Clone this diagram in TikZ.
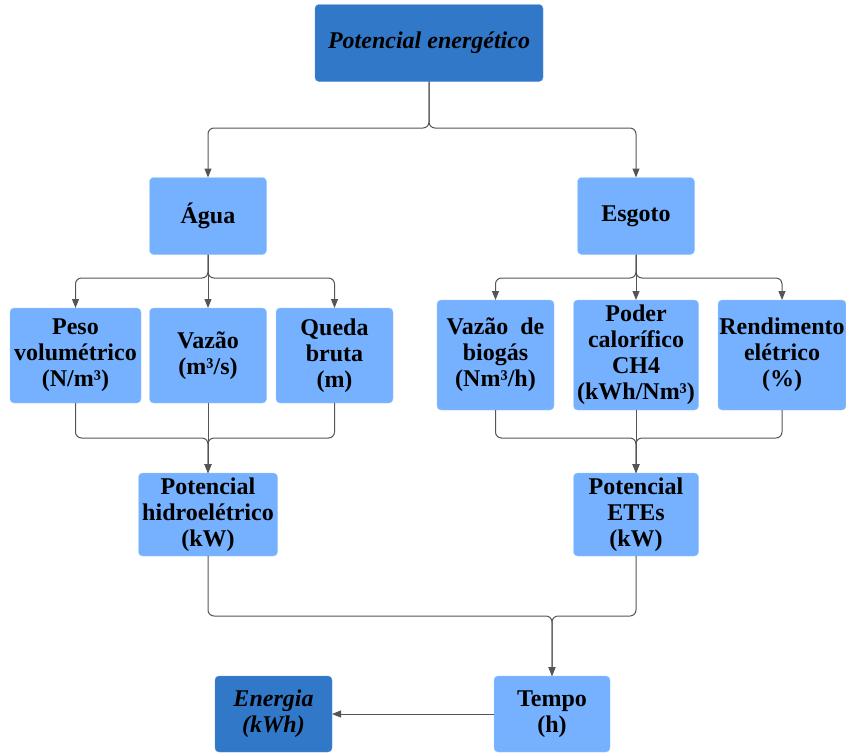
\documentclass[tikz,border=0pt]{standalone}
\usepackage{fontspec}
\setmainfont{Liberation Serif}
\usetikzlibrary{arrows.meta, calc, positioning}
\definecolor{lightbox}{RGB}{117,177,254}
\definecolor{darkbox}{RGB}{50,120,200}
\definecolor{linegray}{RGB}{85,85,85}

\begin{document}
\begin{tikzpicture}[x=1pt, y=-1pt,% pixel like coordinates
         > = {Triangle[length=9pt, width=7pt]},
   box/.style = {draw=lightbox!70!white, fill=lightbox, rounded corners=4pt,
                 inner sep=0pt, outer sep=0pt, align=center,
                 font=\fontsize{24}{26}\selectfont\bfseries},
topbox/.style = {box, draw=darkbox!80!white, fill=darkbox,
                 font=\fontsize{24}{26}\selectfont\bfseries\itshape},
  link/.style = {draw=linegray, line width=1pt, rounded corners=6pt, ->}
                        ]
	\useasboundingbox (0,0) rectangle (846,753);

	% boxes
	\node[topbox, minimum width=228pt, minimum height=77pt] (pot) at (429,43) {Potencial energético};
	\node[box, minimum width=117pt, minimum height=77pt] (agua) at (208,216) {Água};
	\node[box, minimum width=117pt, minimum height=77pt] (esgoto) at (636,216) {Esgoto};

	\node[box, minimum width=131pt, minimum height=95pt] (peso) at (75.5,355.5) {Peso\\volumétrico\\(N/m³)};
	\node[box, minimum width=117pt, minimum height=95pt] (vazao) at (208,355.5) {Vazão\\(m³/s)};
	\node[box, minimum width=117pt, minimum height=95pt] (queda) at (334.5,355.5) {Queda\\bruta\\(m)};

	\node[box, minimum width=117pt, minimum height=110pt] (biogas) at (495.5,355) {Vazão\ \ de\\biogás\\(Nm³/h)};
	\node[box, minimum width=125pt, minimum height=110pt] (poder) at (636,355) {Poder\\calorífico\\CH4\\(kWh/Nm³)};
	\node[box, minimum width=128pt, minimum height=110pt] (rend) at (782,355) {Rendimento\\elétrico\\(\%)};

	\node[box, minimum width=139pt, minimum height=83pt] (hidro) at (208,514.5) {Potencial\\hidroelétrico\\(kW)};
	\node[box, minimum width=125pt, minimum height=83pt] (etes) at (636,514.5) {Potencial\\ETEs\\(kW)};

	\node[box, minimum width=116pt, minimum height=76pt] (tempo) at (552,714) {Tempo\\(h)};
	\node[topbox, minimum width=117pt, minimum height=76pt] (energia) at (273.5,714) {Energia\\(kWh)};

	% split and merge levels
	\coordinate (s0) at (0,128);
	\coordinate (s1) at (0,278);
	\coordinate (m1) at (0,438);
	\coordinate (m2) at (0,616);

	\foreach \n in {agua, esgoto}
		\draw[link] (pot.south) -- (pot.south |- s0) -- (\n.north |- s0) -- (\n.north);

	\foreach \n in {peso, queda}
		\draw[link] (agua.south) -- (agua.south |- s1) -- (\n.north |- s1) -- (\n.north);
	\draw[link] (agua) -- (vazao);
	\foreach \n in {biogas, rend}
		\draw[link] (esgoto.south) -- (esgoto.south |- s1) -- (\n.north |- s1) -- (\n.north);
	\draw[link] (esgoto) -- (poder);

	\foreach \n in {peso, queda}
		\draw[link] (\n.south) -- (\n.south |- m1) -- (hidro.north |- m1) -- (hidro.north);
	\draw[link] (vazao) -- (hidro);
	\foreach \n in {biogas, rend}
		\draw[link] (\n.south) -- (\n.south |- m1) -- (etes.north |- m1) -- (etes.north);
	\draw[link] (poder) -- (etes);

	\foreach \n in {hidro, etes}
		\draw[link] (\n.south) -- (\n.south |- m2) -- (tempo.north |- m2) -- (tempo.north);
	\draw[link] (tempo) -- (energia);
\end{tikzpicture}
\end{document}
